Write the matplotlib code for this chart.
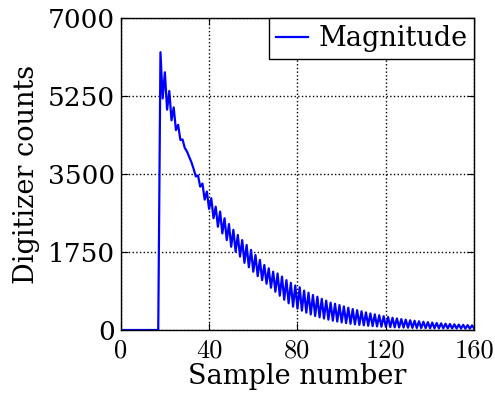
import matplotlib
matplotlib.use("Agg")
from matplotlib import pyplot as plt

# sample index 0..160
samples = list(range(161))

# digitizer magnitude
magnitude = [
    0, 0, 0, 0, 0, 0, 0, 0, 0, 0,
    0, 0, 0, 0, 0, 0, 0, 0, 6240, 5200,
    5790, 4950, 5370, 4710, 5000, 4490, 4610, 4270, 4280, 4090,
    4010, 3890, 3770, 3620, 3450, 3470, 3220, 3290, 2930, 3110,
    2720, 2960, 2510, 2770, 2320, 2660, 2170, 2510, 2020, 2380,
    1870, 2250, 1760, 2135, 1650, 2020, 1510, 1910, 1410, 1800,
    1310, 1685, 1210, 1575, 1120, 1460, 1040, 1385, 950, 1310,
    860, 1270, 770, 1200, 680, 1120, 600, 1060, 525, 1000,
    480, 960, 435, 885, 390, 838, 350, 786, 315, 748,
    285, 700, 258, 660, 233, 614, 210, 590, 190, 560,
    172, 530, 155, 500, 140, 470, 127, 445, 115, 420,
    105, 395, 96, 372, 88, 350, 81, 330, 75, 310,
    70, 292, 65, 275, 61, 260, 57, 246, 54, 233,
    51, 220, 48, 208, 46, 197, 44, 186, 42, 176,
    40, 167, 39, 158, 38, 150, 37, 142, 36, 135,
    35, 128, 34, 122, 33, 116, 32, 110, 31, 105,
    30,
]

xticks = [0, 40, 80, 120, 160]
yticks = [0, 1750, 3500, 5250, 7000]

fig = plt.figure(figsize=(4.95, 3.99), dpi=100)
ax = fig.add_axes([0.2438, 0.1729, 0.7143, 0.781])

ax.plot(samples, magnitude, color="#0000ff", linewidth=1.6, label="Magnitude")

ax.set_xlim(0, 160)
ax.set_ylim(0, 7000)
ax.set_xticks(xticks)
ax.set_yticks(yticks)
ax.set_xticklabels([str(t) for t in xticks], fontfamily="cmr10", fontsize=19)
ax.set_yticklabels([str(t) for t in yticks], fontfamily="DejaVu Serif", fontsize=19)

ax.tick_params(direction="in", top=True, right=True, length=5, width=0.8)
ax.tick_params(axis="x", pad=6)
ax.tick_params(axis="y", pad=4)
ax.grid(True, color="k", linestyle=":", linewidth=1)

for s in ax.spines.values():
    s.set_linewidth(1.0)

ax.set_xlabel("Sample number", fontfamily="DejaVu Serif", fontsize=19.5, labelpad=1)
ax.set_ylabel("Digitizer counts", fontfamily="DejaVu Serif", fontsize=19.5, labelpad=6)

leg = ax.legend(loc="upper right", borderaxespad=0, fancybox=False,
                framealpha=1, edgecolor="k", handlelength=1.2,
                handletextpad=0.37, borderpad=0.25,
                prop={"family": "DejaVu Serif", "size": 19.5})
leg.get_frame().set_linewidth(1.0)

fig.savefig("out.png", dpi=100)
